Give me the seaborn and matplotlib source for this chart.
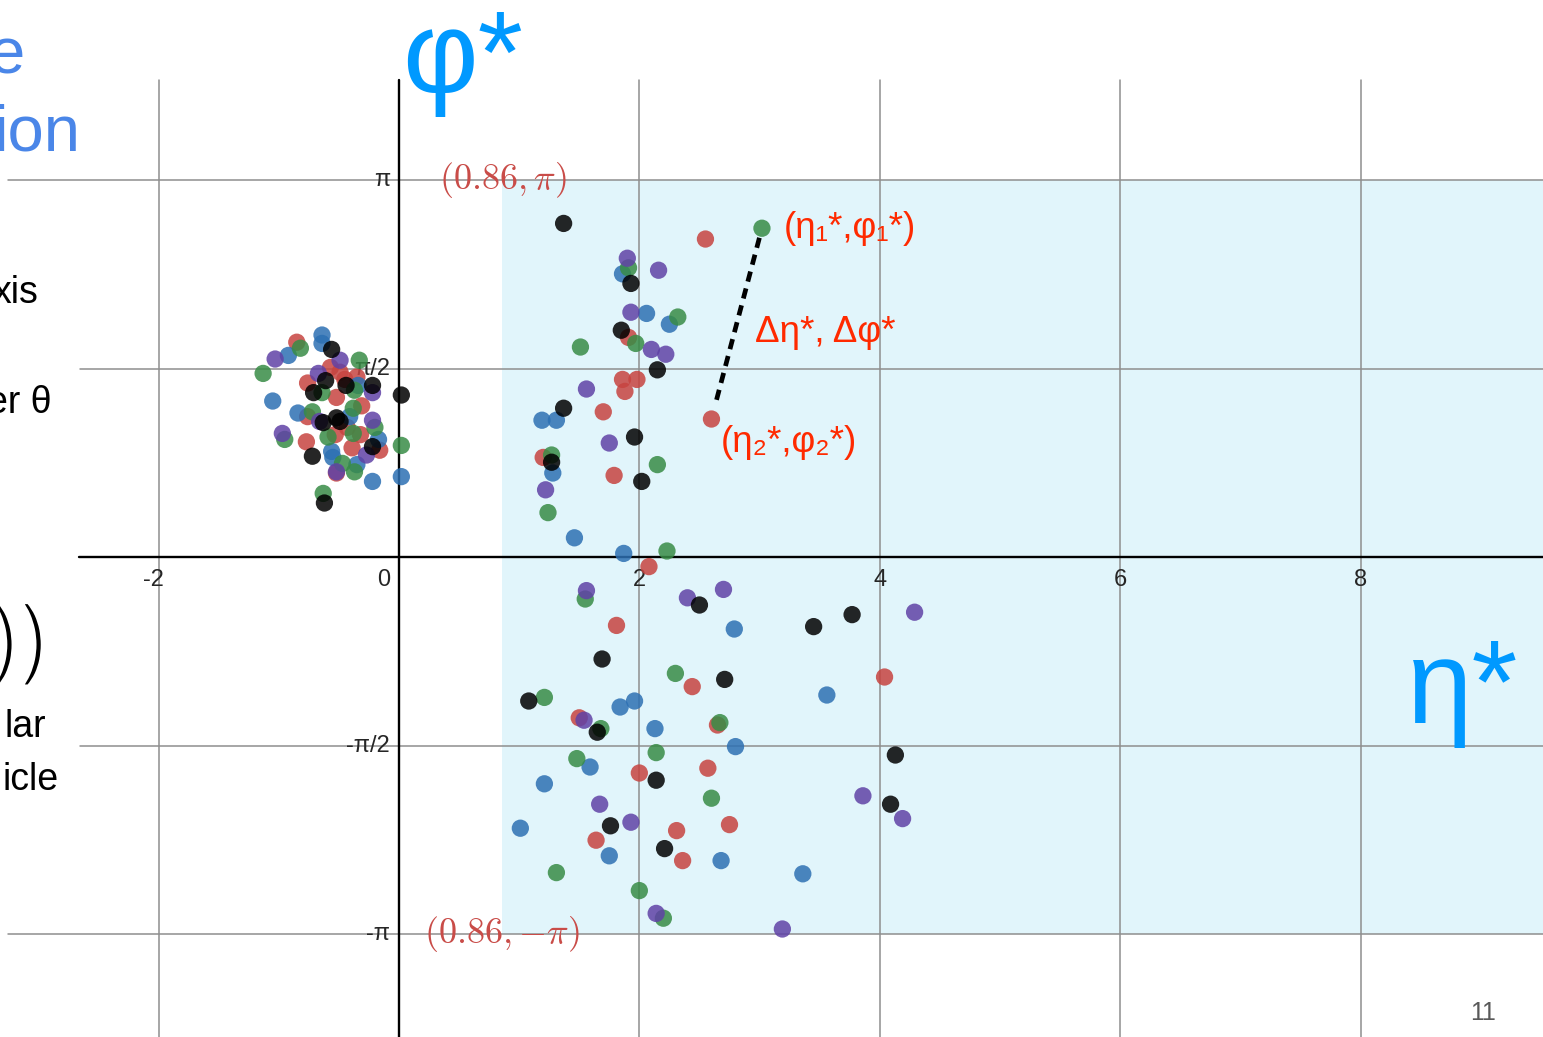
import numpy as np
import pandas as pd
import matplotlib
matplotlib.use("Agg")
import matplotlib.pyplot as plt
import matplotlib.patheffects as pe
import seaborn as sns

# --- (eta*, phi*) points per colour series ---------------------------------
eta_red = [2.55, 1.91, 1.86, 1.98, 1.88, 1.70, 1.20, 1.79, 2.08, 1.81,
           2.44, 4.04, 1.50, 2.65, 2.00, 2.57, 1.64, 2.31, 2.75, 2.36,
           -0.85, -0.57, -0.49, -0.76, -0.45, -0.35, -0.52, -0.31, -0.76, -0.43,
           -0.77, -0.53, -0.32, -0.16, -0.39, -0.52]
phi_red = [2.65, 1.83, 1.48, 1.48, 1.38, 1.21, 0.83, 0.68, -0.08, -0.57,
           -1.08, -1.00, -1.34, -1.40, -1.80, -1.76, -2.36, -2.28, -2.23, -2.53,
           1.79, 1.58, 1.54, 1.45, 1.48, 1.50, 1.33, 1.26, 1.17, 1.08,
           0.96, 1.02, 1.02, 0.89, 0.91, 0.70]

eta_green = [1.91, 2.32, 1.97, 1.51, 1.27, 2.15, 1.24, 2.23, 1.55, 2.30,
             1.21, 1.68, 2.67, 2.14, 1.48, 2.60, 1.31, 2.00, 2.20,
             -0.82, -1.13, -0.33, -0.64, -0.37, -0.72, -0.38, -0.20, -0.95, -0.59,
             -0.38, -0.47, -0.37, -0.63, 0.02]
phi_green = [2.41, 2.00, 1.78, 1.75, 0.85, 0.77, 0.37, 0.05, -0.35, -0.97,
             -1.17, -1.43, -1.38, -1.63, -1.68, -2.01, -2.63, -2.78, -3.01,
             1.74, 1.53, 1.64, 1.37, 1.39, 1.21, 1.24, 1.08, 0.98, 1.00,
             1.03, 0.78, 0.71, 0.53, 0.93]

eta_blue = [1.86, 2.06, 2.25, 1.19, 1.31, 1.28, 1.46, 1.87, 2.79, 3.56,
            1.84, 1.96, 2.13, 2.80, 1.59, 1.21, 1.01, 1.75, 2.68, 3.36,
            -0.64, -0.64, -0.92, -0.34, -1.05, -0.84, -0.41, -0.17, -0.56, -0.55,
            -0.35, -0.22, 0.02]
phi_blue = [2.36, 2.03, 1.94, 1.14, 1.14, 0.70, 0.16, 0.03, -0.60, -1.15,
            -1.25, -1.20, -1.43, -1.58, -1.75, -1.89, -2.26, -2.49, -2.53, -2.64,
            1.85, 1.78, 1.68, 1.43, 1.30, 1.20, 1.17, 0.98, 0.88, 0.83,
            0.77, 0.63, 0.67]

eta_black = [1.37, 1.93, 1.85, 2.15, 1.37, 1.96, 1.27, 2.02, 2.50, 3.45,
             3.77, 1.69, 2.71, 1.08, 1.65, 2.14, 4.13, 1.76, 2.21, 4.09,
             -0.56, -0.61, -0.71, -0.44, -0.22, -0.63, -0.52, -0.49, -0.22, -0.72,
             -0.62, 0.02]
phi_black = [2.78, 2.28, 1.89, 1.56, 1.24, 1.00, 0.79, 0.63, -0.40, -0.58,
             -0.48, -0.85, -1.02, -1.20, -1.46, -1.86, -1.65, -2.24, -2.43, -2.06,
             1.73, 1.47, 1.37, 1.43, 1.43, 1.12, 1.16, 1.13, 0.92, 0.84,
             0.45, 1.35]

eta_purple = [1.90, 2.16, 1.93, 2.10, 2.22, 1.56, 1.75, 1.22, 1.56, 2.40,
              2.70, 4.29, 1.54, 1.67, 1.93, 3.86, 4.19, 2.14, 3.19,
              -1.03, -0.49, -0.67, -0.22, -0.66, -0.22, -0.97, -0.27, -0.52]
phi_purple = [2.49, 2.39, 2.04, 1.73, 1.69, 1.40, 0.95, 0.56, -0.28, -0.34,
              -0.27, -0.46, -1.36, -2.06, -2.21, -1.99, -2.18, -2.97, -3.10,
              1.65, 1.64, 1.53, 1.37, 1.13, 1.14, 1.03, 0.85, 0.71]

# the highlighted pair (eta1*, phi1*) and (eta2*, phi2*)
pair_eta = [3.02, 2.60]
pair_phi = [2.74, 1.15]
pair_series = ["green", "red"]

# acceptance window edge
eta_min = 0.86

x_ticks = [-2, 0, 2, 4, 6, 8]
y_ticks = [np.pi, np.pi / 2, -np.pi / 2, -np.pi]
y_tick_labels = ["π", "π/2", "-π/2", "-π"]

palette = {"red": "#c74440", "blue": "#2d70b3", "green": "#388c46",
           "purple": "#6042a6", "black": "#000000"}

frames = []
for name, ex, ph in [("red", eta_red, phi_red), ("blue", eta_blue, phi_blue),
                     ("green", eta_green, phi_green), ("purple", eta_purple, phi_purple),
                     ("black", eta_black, phi_black)]:
    frames.append(pd.DataFrame({"eta": ex, "phi": ph, "series": name}))
frames.append(pd.DataFrame({"eta": pair_eta, "phi": pair_phi, "series": pair_series}))
df = pd.concat(frames, ignore_index=True)

sns.set_theme(style="white")
plt.rcParams["font.family"] = ["Liberation Sans", "DejaVu Sans"]
plt.rcParams["mathtext.fontset"] = "cm"

fig = plt.figure(figsize=(15.43, 10.37), dpi=100)
ax = fig.add_axes([0, 0, 1, 1])
x_lo, x_hi = -3.319, 9.518
y_lo, y_hi = -4.0, 4.642

# shaded acceptance region
ax.fill_between([eta_min, x_hi + 1], -np.pi, np.pi, color="#e1f5fb", lw=0, zorder=0)

grid_col = "#8e8e8e"
grid_top = 3.975
for xv in x_ticks:
    if xv == 0:
        continue
    ax.plot([xv, xv], [y_lo - 1, grid_top], color=grid_col, lw=1.1, zorder=1)
for yv in y_ticks:
    start = -3.25 if abs(abs(yv) - np.pi) < 1e-9 else -2.65
    ax.plot([start, x_hi + 1], [yv, yv], color=grid_col, lw=1.1, zorder=1)

# main axes
ax.plot([0, 0], [y_lo - 1, grid_top], color="black", lw=1.7, zorder=2)
ax.plot([-2.66, x_hi + 1], [0, 0], color="black", lw=1.7, zorder=2)

# tick labels
tick_y = -0.245
for xv in x_ticks:
    if xv == 0:
        ax.text(-0.075, tick_y, "0", ha="right", va="baseline", fontsize=17, zorder=3)
    else:
        shift = -0.04 if xv < 0 else 0.0
        ax.text(xv + shift, tick_y, f"{xv}", ha="center", va="baseline", fontsize=17, zorder=3)
for yv, lab in zip(y_ticks, y_tick_labels):
    ax.text(-0.075, yv, lab, ha="right", va="center", fontsize=17, zorder=3)

# points
sns.scatterplot(data=df, x="eta", y="phi", hue="series", palette=palette,
                s=155, alpha=0.85, linewidth=0, legend=False, ax=ax, zorder=5)
ax.set_xlim(x_lo, x_hi)
ax.set_ylim(y_lo, y_hi)
ax.axis("off")

# dashed separation between the pair
t0, t1 = 0.05, 0.92
lx = [pair_eta[0] + t0 * (pair_eta[1] - pair_eta[0]), pair_eta[0] + t1 * (pair_eta[1] - pair_eta[0])]
ly = [pair_phi[0] + t0 * (pair_phi[1] - pair_phi[0]), pair_phi[0] + t1 * (pair_phi[1] - pair_phi[0])]
ax.plot(lx, ly, color="black", lw=3.4, linestyle=(0, (2.2, 1.5)), zorder=4)

red_txt = "#ff2a00"
ax.annotate("(η₁*,φ₁*)", xy=(pair_eta[0], pair_phi[0]), xytext=(16, 0),
            textcoords="offset points", ha="left", va="center", fontsize=26.5, color=red_txt, zorder=6)
ax.annotate("(η₂*,φ₂*)", xy=(pair_eta[1], pair_phi[1]), xytext=(7, -17),
            textcoords="offset points", ha="left", va="center", fontsize=26.5, color=red_txt, zorder=6)
ax.text(2.96, 1.875, "Δη*, Δφ*", ha="left", va="center", fontsize=26.5, color=red_txt, zorder=6)

# corner labels of the acceptance window
ax.text(eta_min, np.pi, r"$(0.86, \pi)$", ha="center", va="center", fontsize=26,
        color="#c94c48", zorder=6)
ax.text(eta_min, -np.pi, r"$(0.86, {-}\pi)$", ha="center", va="center", fontsize=26,
        color="#c94c48", zorder=6)

# axis names
axis_blue = "#0099ff"
ax.text(0.025, 3.867, "φ*", ha="left", va="baseline", fontsize=84, color=axis_blue, zorder=6)
ax.text(8.39, -1.383, "η*", ha="left", va="baseline", fontsize=85, color=axis_blue, zorder=6)

# slide text along the left edge
slide_blue = "#4a86e8"
ax.text(-3.42, 4.033, "e", ha="left", va="baseline", fontsize=47, color=slide_blue)
ax.text(-3.37, 3.39, "ion", ha="left", va="baseline", fontsize=47, color=slide_blue)
ax.text(-2.995, 2.117, "xis", ha="right", va="baseline", fontsize=27, color="black")
ax.text(-2.89, 1.20, "er θ", ha="right", va="baseline", fontsize=27, color="black")
# closing brackets of a formula, drawn with a light stroke
ax.text(-2.93, -0.74, "))", ha="right", va="center", fontsize=70, color="black",
        family=["Noto Sans", "DejaVu Sans"],
        path_effects=[pe.Normal(), pe.Stroke(linewidth=3.2, foreground="white")])
ax.text(-2.937, -1.50, "lar", ha="right", va="baseline", fontsize=27, color="black")
ax.text(-2.829, -1.942, "icle", ha="right", va="baseline", fontsize=27, color="black")

# page number
ax.text(9.126, -3.858, "11", ha="right", va="baseline", fontsize=18, color="#595959")

fig.savefig("out.png", dpi=100)
